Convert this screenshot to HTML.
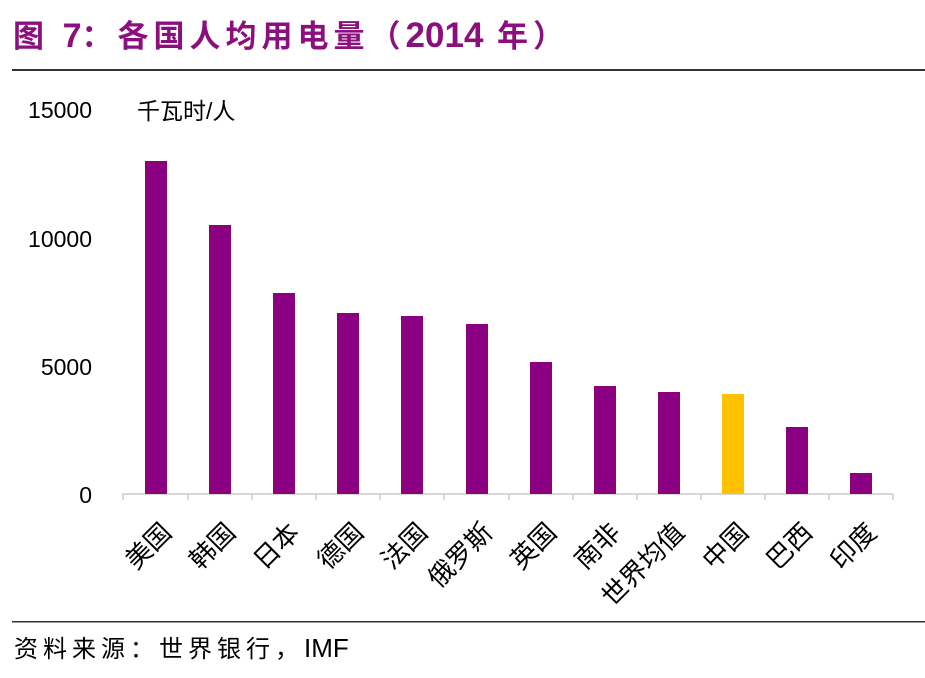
<!DOCTYPE html>
<html><head><meta charset="utf-8"><style>
body{margin:0;background:#fff;}
svg{display:block;}
</style></head><body>
<svg width="925" height="678" xmlns="http://www.w3.org/2000/svg" font-family="Liberation Sans, Noto Sans CJK SC, sans-serif">
<text x="13" y="47" font-size="31" font-weight="bold" fill="#8C0F7E" font-family="Liberation Sans, Noto Sans CJK SC, sans-serif"><tspan letter-spacing="5">图 </tspan><tspan font-size="34">7</tspan><tspan letter-spacing="5">：各国人均用电量（</tspan><tspan font-size="35">2014</tspan><tspan letter-spacing="5"> 年）</tspan></text>
<rect x="12" y="69" width="913" height="2" fill="#333"/>
<g font-size="23" fill="#000" text-anchor="end">
<text x="92" y="118">15000</text>
<text x="92" y="247">10000</text>
<text x="92" y="375">5000</text>
<text x="92" y="503">0</text>
</g>
<text x="137" y="119" font-size="23">千瓦时/人</text>
<line x1="122" y1="494" x2="893" y2="494" stroke="#ccc" stroke-width="1.5"/>
<g stroke="#ccc" stroke-width="1.5">
<line x1="123" y1="494" x2="123" y2="500"/><line x1="188" y1="494" x2="188" y2="500"/><line x1="252" y1="494" x2="252" y2="500"/><line x1="316" y1="494" x2="316" y2="500"/><line x1="380" y1="494" x2="380" y2="500"/><line x1="444" y1="494" x2="444" y2="500"/><line x1="509" y1="494" x2="509" y2="500"/><line x1="573" y1="494" x2="573" y2="500"/><line x1="637" y1="494" x2="637" y2="500"/><line x1="701" y1="494" x2="701" y2="500"/><line x1="765" y1="494" x2="765" y2="500"/><line x1="829" y1="494" x2="829" y2="500"/><line x1="893" y1="494" x2="893" y2="500"/>
</g>
<g fill="#8B0080">
<rect x="145" y="161" width="22" height="333"/>
<rect x="209" y="225" width="22" height="269"/>
<rect x="273" y="293" width="22" height="201"/>
<rect x="337" y="313" width="22" height="181"/>
<rect x="401" y="316" width="22" height="178"/>
<rect x="466" y="324" width="22" height="170"/>
<rect x="530" y="362" width="22" height="132"/>
<rect x="594" y="386" width="22" height="108"/>
<rect x="658" y="392" width="22" height="102"/>
<rect x="722" y="394" width="22" height="100" fill="#FFC000"/>
<rect x="786" y="427" width="22" height="67"/>
<rect x="850" y="473" width="22" height="21"/>
</g>
<g font-size="26" text-anchor="end" fill="#000">
<text transform="translate(173,534) rotate(-45)">美国</text>
<text transform="translate(237,534) rotate(-45)">韩国</text>
<text transform="translate(301,534) rotate(-45)">日本</text>
<text transform="translate(365,534) rotate(-45)">德国</text>
<text transform="translate(429,534) rotate(-45)">法国</text>
<text transform="translate(494,534) rotate(-45)">俄罗斯</text>
<text transform="translate(558,534) rotate(-45)">英国</text>
<text transform="translate(622,534) rotate(-45)">南非</text>
<text transform="translate(686,534) rotate(-45)">世界均值</text>
<text transform="translate(750,534) rotate(-45)">中国</text>
<text transform="translate(814,534) rotate(-45)">巴西</text>
<text transform="translate(878,534) rotate(-45)">印度</text>
</g>
<rect x="12" y="621" width="913" height="1.5" fill="#333"/>
<text x="14" y="657" font-size="24" fill="#000"><tspan letter-spacing="5">资料来源：世界银行，</tspan><tspan font-size="26">IMF</tspan></text>
</svg>
</body></html>
